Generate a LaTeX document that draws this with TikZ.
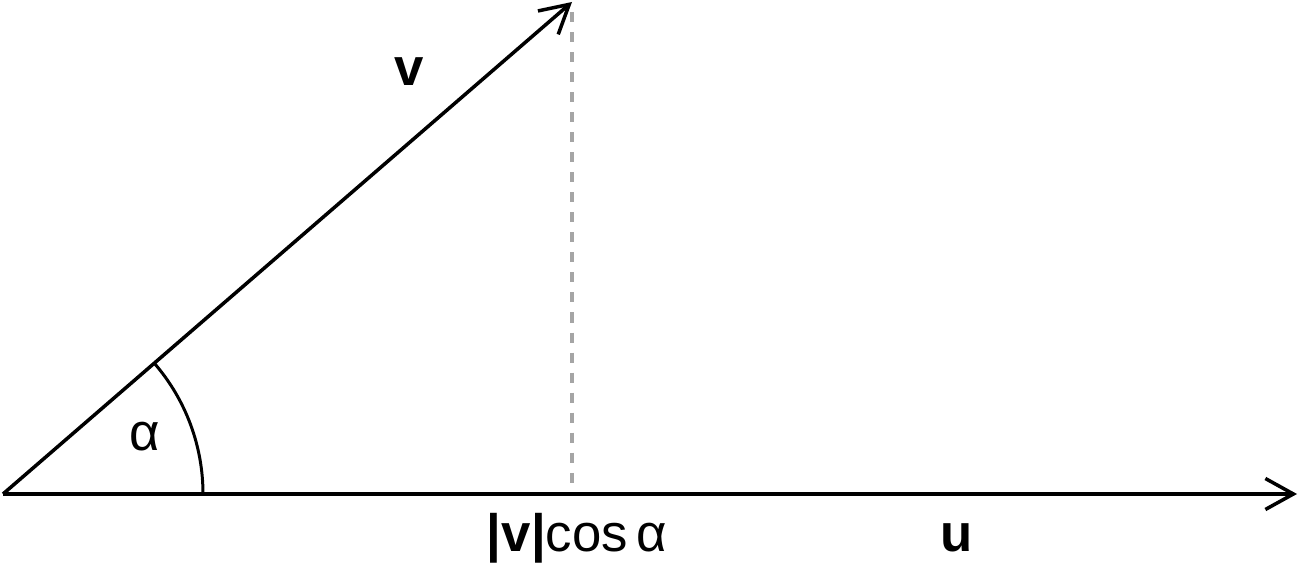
\documentclass[tikz,border=0pt]{standalone}
\usepackage{fontspec}
\setmainfont{Liberation Sans}
\usepackage{tikz}
\usetikzlibrary{arrows.meta, positioning, calc}
\definecolor{mydark}{RGB}{0,0,0}
\definecolor{mygray}{RGB}{165,165,165}
\tikzset{
  vecarrow/.style={-{Straight Barb[length=0.56cm, width=0.62cm, line width=2pt]},
    line width=2pt, color=mydark},
  projline/.style={color=mygray, line width=2pt, dash pattern=on 5.7pt off 5.7pt},
  anglearc/.style={line width=1.7pt, color=mydark},
  lbl/.style={font=\fontsize{30}{36}\selectfont, inner sep=0pt},
  boldlbl/.style={lbl, font=\fontsize{30}{36}\selectfont\bfseries}
}
\begin{document}
\begin{tikzpicture}
  \useasboundingbox (-0.06,-1.44) rectangle (25.92,9.88);

  % points
  \coordinate (O) at (0,0);
  \coordinate (vtip) at (11.38,9.84);
  \coordinate (utip) at (25.88,0);
  \coordinate (foot) at (11.38,0);

  % projection of v onto u
  \draw[projline] ($(vtip)+(0,-0.2)$) -- (foot);

  % the two vectors
  \draw[vecarrow] (O) -- (utip);
  \draw[vecarrow] (O) -- (vtip);

  % angle between them
  \draw[anglearc] (4,0) arc[start angle=0, end angle=40.85, radius=4];

  % labels
  \node[boldlbl] (vlabel) at (8.12,8.44) {v};
  \node[lbl] (alabel) at (2.84,1.14) {α};
  \node[lbl] (plabel) at (11.48,-0.88) {\textbf{|v|}cos\,α};
  \node[boldlbl] (ulabel) at (19.08,-0.88) {u};
\end{tikzpicture}
\end{document}
